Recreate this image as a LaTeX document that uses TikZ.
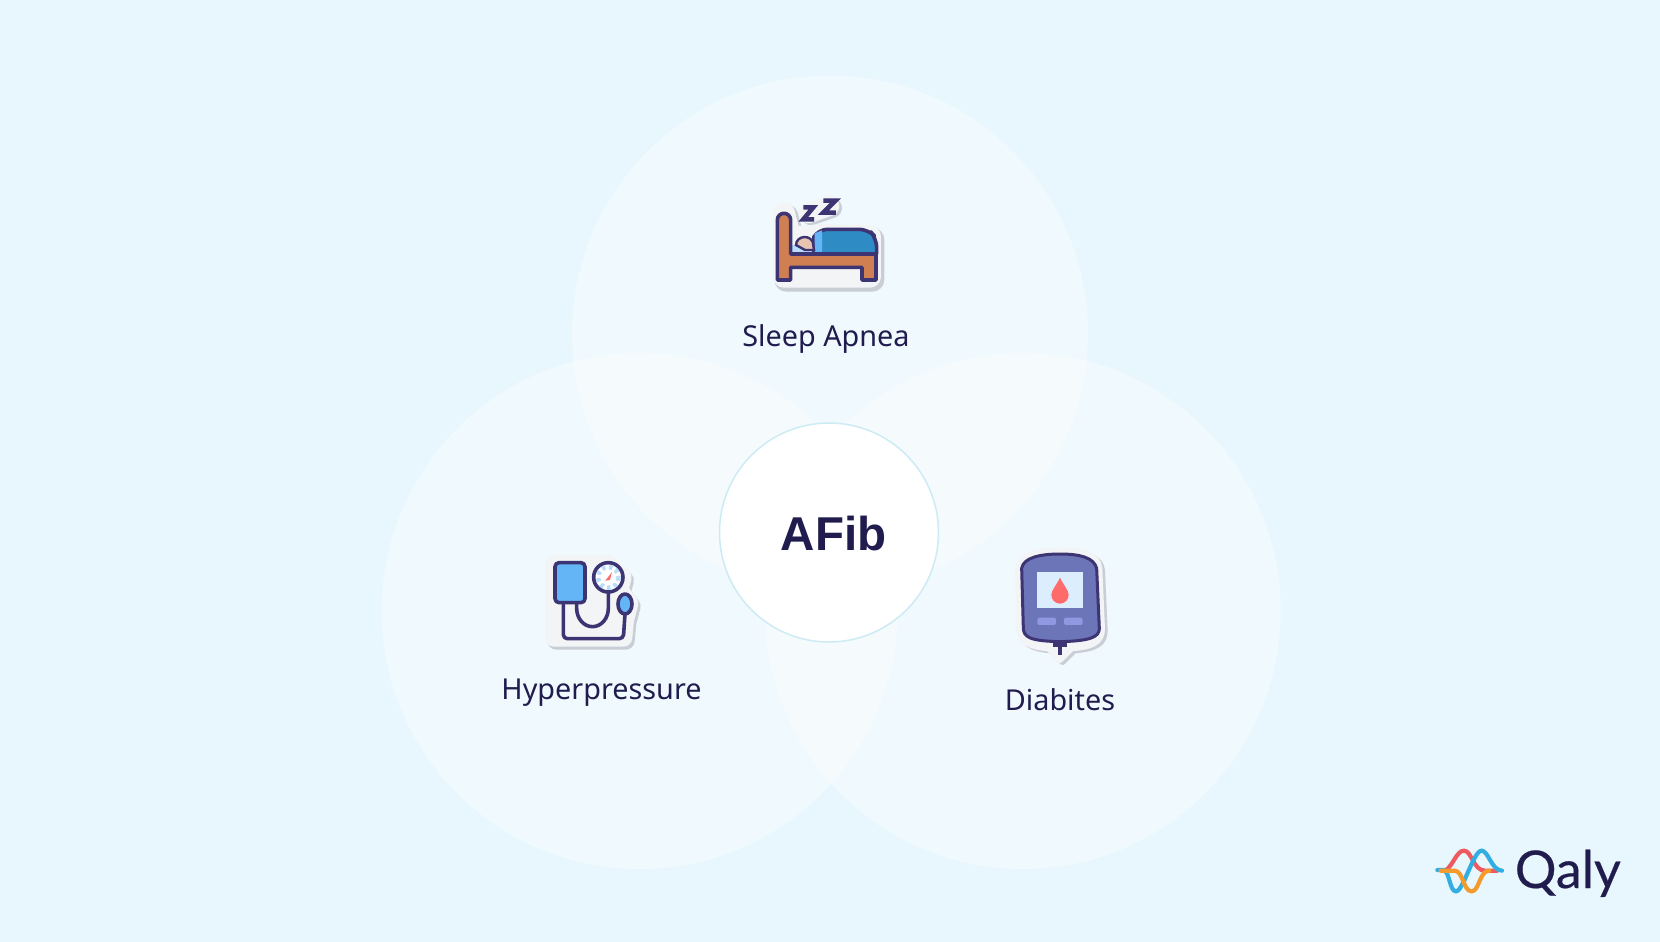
\documentclass[tikz,border=0pt]{standalone}
\usepackage{fontspec}
\setmainfont{Noto Sans}
\newfontfamily\logofont[FakeBold=0.4]{Lato}
\newfontfamily\afibfont{Liberation Sans}
\definecolor{bgc}{HTML}{E8F7FD}
\definecolor{ink}{HTML}{211C4E}
\definecolor{cline}{HTML}{3D3573}
\definecolor{cstick}{HTML}{F2F4F6}
\definecolor{cshadow}{HTML}{C9CDD6}
\definecolor{wood}{HTML}{CF7F52}
\definecolor{blanket}{HTML}{2E8BC4}
\definecolor{lightb}{HTML}{64B5F6}
\definecolor{meter}{HTML}{6B75B8}
\definecolor{btn}{HTML}{8F98E0}
\definecolor{scr}{HTML}{DCEEFD}
\definecolor{cdrop}{HTML}{FF6B6B}
\definecolor{lblue}{HTML}{33AEE0}
\definecolor{lred}{HTML}{EE5A5F}
\definecolor{lorange}{HTML}{F59A2C}
\definecolor{hubring}{HTML}{CDEBF4}
\tikzset{
  lobe/.style={circle,fill=white,fill opacity=.36,minimum size=516pt,inner sep=0pt},
  hub/.style={circle,fill=white,draw=hubring,line width=1.5pt,minimum size=219pt,inner sep=0pt},
  lab/.style={text=ink,font=\fontsize{28.8}{34}\selectfont},
  iconline/.style={draw=cline,line width=3.6pt,line join=round},
  wave/.style={line width=4.2pt,line cap=round},
  zoomed/.style={x=.3333pt,y=-.3333pt}
}
\begin{document}
\begin{tikzpicture}[x=1pt,y=-1pt]
\fill[bgc] (0,0) rectangle (1660,942);
\useasboundingbox (0,0) rectangle (1660,942);
\node[lobe] (top) at (830,333.5) {};
\node[lobe] (left) at (639.5,611) {};
\node[lobe] (right) at (1022.7,611) {};
\node[hub] (hubc) at (829,532.5) {};
\node[text=ink,font=\afibfont\fontsize{47.5}{56}\selectfont\bfseries,anchor=base,inner sep=0pt] (afib) at (833.6,550) {AFib};
\node[lab] (sleep) at (826,339) {Sleep Apnea};
\node[lab] (hyper) at (601.5,692.5) {Hyperpressure};
\node[lab] (diab) at (1060,700) {Diabites};

% bed icon
\begin{scope}[shift={(740,170)},zoomed]
  \def\bedsil{(132,130) -- (132,320) -- (390,320) -- (390,200) -- (240,195) -- (195,200) -- (150,200) -- (132,130)}
  \def\zsil{(205,130) -- (268,108)}
  \draw[cshadow,line width=24pt,line join=round,line cap=round,shift={(7,9)}] \bedsil;
  \draw[cshadow,line width=20pt,line cap=round,shift={(8,6)}] \zsil;
  \draw[cstick,fill=cstick,line width=22pt,line join=round,line cap=round] \bedsil;
  \draw[cstick,line width=20pt,line cap=round] \zsil;
  \fill[lightb!45] (155,225) rectangle (225,252);
  \filldraw[fill=blanket,iconline] (222,252) -- (222,200) [rounded corners=9pt] -- (235,178) -- (385,178) -- (410,205) [sharp corners] -- (410,252) -- cycle;
  \fill[lightb] (224,190) -- (246,181) -- (246,250) -- (224,250) -- cycle;
  \filldraw[fill=wood,iconline] (112,150) arc[start angle=180,end angle=360,x radius=20,y radius=20] -- (152,252) -- (408,252) -- (408,330) -- (366,330) -- (366,292) -- (152,292) -- (152,330) -- (112,330) -- cycle;
  \filldraw[fill=wood!45!white,draw=cline,line width=2.4pt] (168,225) arc[start angle=180,end angle=340,x radius=26,y radius=24] -- (222,240) -- (195,240) -- cycle;
  \draw[cline,line width=4.6pt,line join=miter] (190,112) -- (220,112) -- (190,148) -- (222,148);
  \draw[cline,line width=4.6pt,line join=miter] (250,92) -- (286,92) -- (250,128) -- (288,128);
\end{scope}

% blood pressure icon
\begin{scope}[shift={(530,540)},zoomed]
  \def\bpsil{(72,72) -- (235,72) -- (278,112) -- (268,150) -- (298,190) -- (285,240) -- (280,293) -- (72,293) -- cycle}
  \draw[cshadow,line width=18pt,line join=round,shift={(7,9)}] \bpsil;
  \draw[fill=cstick,draw=cstick,line width=18pt,line join=round] \bpsil;
  \draw[iconline,line cap=round,fill=none] (140,188) -- (140,205) arc[start angle=180,end angle=0,x radius=47.5,y radius=55] -- (235,155);
  \draw[iconline,fill=none] (100,188) -- (100,285) [rounded corners=4pt] -- (100,296) -- (280,296) [sharp corners] -- (285,222);
  \filldraw[fill=lightb,iconline,rounded corners=4pt] (75,68) rectangle (165,188);
  \filldraw[fill=white,iconline] (235,112) circle[radius=44];
  \draw[scr!70!lightb,line width=4.5pt,dash pattern=on 3.5pt off 3.5pt] (235,112) circle[radius=31];
  \fill[cdrop] (226,122) -- (246,96) -- (240,120) -- cycle;
  \filldraw[fill=lightb,iconline] (285,192) ellipse[x radius=21,y radius=30];
\end{scope}

% glucose meter icon
\begin{scope}[shift={(1000,535)},zoomed]
  \def\gmsil{(180,47) .. controls (245,47) and (295,60) .. (298,100) -- (306,280) .. controls (306,320) and (280,335) .. (215,340) -- (180,375) -- (145,340) .. controls (85,335) and (60,320) .. (58,280) -- (55,100) .. controls (60,60) and (115,47) .. (180,47) -- cycle}
  \draw[cshadow,line width=6pt,line join=round,shift={(8,6)}] \gmsil;
  \filldraw[fill=cstick,draw=cstick,line width=6pt,line join=round] \gmsil;
  \fill[cline] (158,315) rectangle (200,337);
  \fill[cline] (175,335) rectangle (185,360);
  \filldraw[fill=meter,draw=cline,line width=3pt] (180,57) .. controls (240,57) and (282,68) .. (290,100) -- (298,280) .. controls (298,305) and (275,318) .. (180,320) .. controls (85,318) and (72,305) .. (70,280) -- (65,100) .. controls (70,68) and (120,57) .. (180,57) -- cycle;
  \fill[scr] (112,112) rectangle (248,220);
  \fill[cdrop] (180,128) .. controls (190,150) and (206,165) .. (206,180) arc[start angle=0,end angle=180,radius=26] .. controls (154,165) and (170,150) .. (180,128) -- cycle;
  \fill[btn,rounded corners=2pt] (112,248) rectangle (168,270);
  \fill[btn,rounded corners=2pt] (192,248) rectangle (248,270);
\end{scope}

% logo
\begin{scope}[shift={(1420,830)},zoomed]
  \draw[lred,wave] (78,120) .. controls (100,105) and (110,62) .. (132,62) .. controls (155,62) and (160,122) .. (195,122) -- (232,122);
  \draw[lblue,wave] (52,120) -- (70,120) .. controls (90,125) and (88,184) .. (108,184) .. controls (130,184) and (160,62) .. (185,62) .. controls (205,62) and (215,122) .. (246,122);
  \draw[lorange,wave] (62,122) -- (105,122) .. controls (130,125) and (130,184) .. (155,184) .. controls (178,184) and (178,122) .. (208,122);
  \node[text=ink,font=\logofont\fontsize{52}{60}\selectfont,anchor=base west,inner sep=0pt] (qaly) at (284,174) {Qaly};
\end{scope}
\end{tikzpicture}
\end{document}
